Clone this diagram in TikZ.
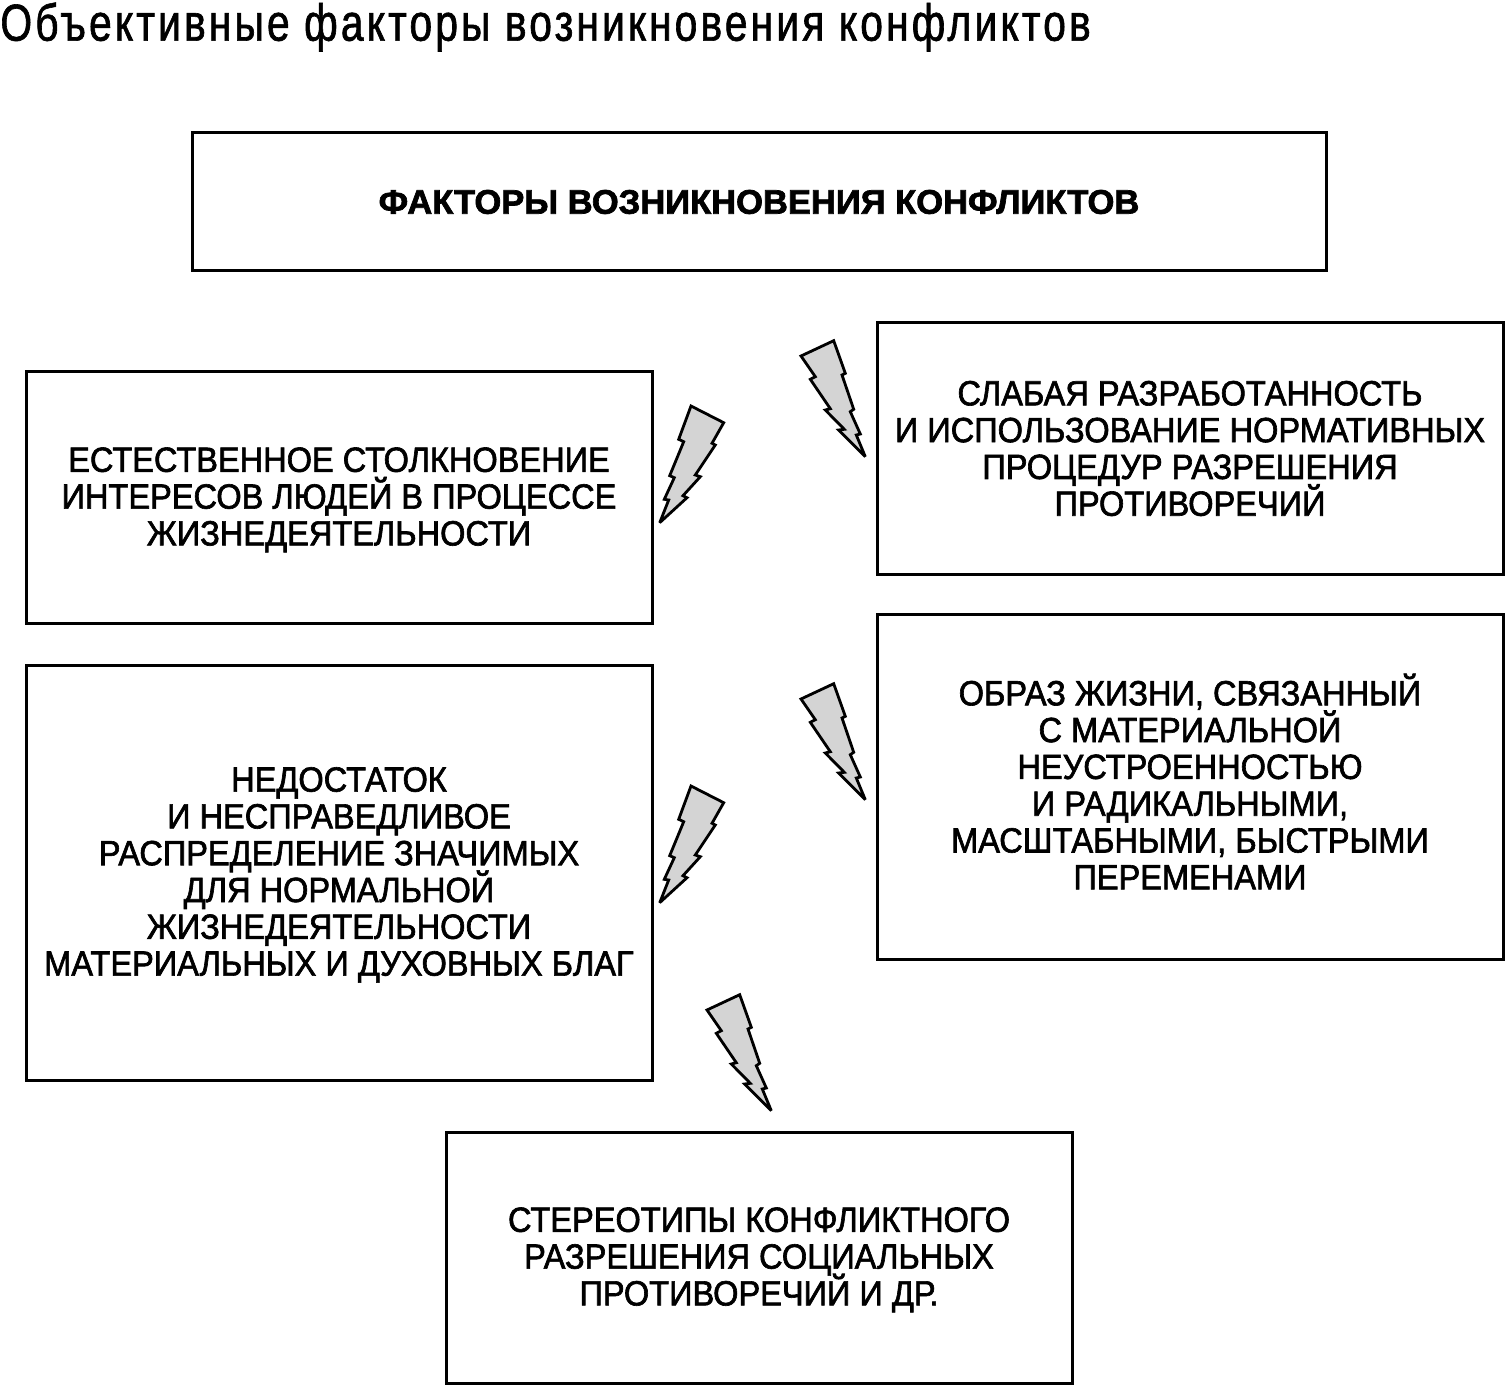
\documentclass[tikz,border=0pt]{standalone}
\usepackage{fontspec}
\setmainfont{Liberation Sans}
\newfontfamily\bodyfont[FakeStretch=0.93,FakeBold=1.8]{Liberation Sans}
\newfontfamily\headfont[FakeStretch=1.016,FakeBold=2]{Liberation Sans}
\newfontfamily\titlefont[FakeStretch=0.785,LetterSpace=6,FakeBold=1.2]{Liberation Sans}
\definecolor{boltgrey}{gray}{0.83}
\newcommand{\pushdown}{\rule{0pt}{14.6pt}}
\newcommand{\pushup}{\rule[-5pt]{0pt}{0pt}}
\tikzset{
  x=0.5pt,y=-0.5pt,
  framebox/.style={draw=black,line width=1.5pt,fill=white,inner sep=0pt,align=center,
    font=\bodyfont\fontsize{17.5}{18.4}\selectfont},
  boltshape/.style={draw=black,fill=boltgrey,line width=1.4pt,line join=miter,miter limit=4},
  rightbolt/.pic={
    \path[boltshape] (0,0) -- (32.7,-15.3) -- (44.3,17.3) -- (41,19) -- (52.7,53.3) -- (49.3,55.7)
      -- (59.3,78) -- (55.3,79) -- (64.3,100.7) -- (37.7,74) -- (43.3,73.3) -- (24.3,54) -- (29.3,52.7)
      -- (9.3,23.3) -- (14.3,20.7) -- cycle;
  },
  leftbolt/.pic={
    \path[boltshape] (0,0) -- (32.7,16.7) -- (21,37.3) -- (24.3,39) -- (4.3,69) -- (9.3,70.7)
      -- (-8,89.7) -- (-4,91.7) -- (-31.3,116.7) -- (-22.3,94) -- (-26.7,93.3) -- (-16.7,71.7)
      -- (-21.3,69.7) -- (-7.3,35.7) -- (-12.3,33.3) -- cycle;
  }
}
\lineskiplimit=-100pt
\begin{document}
\lineskiplimit=-100pt
\begin{tikzpicture}
\useasboundingbox (0,0) rectangle (1505,1385);
\node[anchor=west,inner sep=0pt,font=\titlefont\fontsize{26}{28}\selectfont] (title) at (0,27) {Объективные факторы возникновения конфликтов};
\node[framebox,minimum width=567pt,minimum height=69pt,font=\headfont\bfseries\fontsize{17}{18.4}\selectfont] (head) at (759,202) {ФАКТОРЫ ВОЗНИКНОВЕНИЯ КОНФЛИКТОВ};
\node[framebox,minimum width=313pt,minimum height=125.5pt] (a) at (339,497.5) {\pushdown ЕСТЕСТВЕННОЕ СТОЛКНОВЕНИЕ\\ИНТЕРЕСОВ ЛЮДЕЙ В ПРОЦЕССЕ\\ЖИЗНЕДЕЯТЕЛЬНОСТИ};
\node[framebox,minimum width=313pt,minimum height=125.5pt] (b) at (1190,448.5) {СЛАБАЯ РАЗРАБОТАННОСТЬ\\И ИСПОЛЬЗОВАНИЕ НОРМАТИВНЫХ\\ПРОЦЕДУР РАЗРЕШЕНИЯ\\ПРОТИВОРЕЧИЙ};
\node[framebox,minimum width=313pt,minimum height=207.5pt] (c) at (339,872.5) {\pushdown НЕДОСТАТОК\\И НЕСПРАВЕДЛИВОЕ\\РАСПРЕДЕЛЕНИЕ ЗНАЧИМЫХ\\ДЛЯ НОРМАЛЬНОЙ\\ЖИЗНЕДЕЯТЕЛЬНОСТИ\\МАТЕРИАЛЬНЫХ И ДУХОВНЫХ БЛАГ};
\node[framebox,minimum width=313pt,minimum height=172.5pt] (d) at (1190,786.5) {ОБРАЗ ЖИЗНИ, СВЯЗАННЫЙ\\С МАТЕРИАЛЬНОЙ\\НЕУСТРОЕННОСТЬЮ\\И РАДИКАЛЬНЫМИ,\\МАСШТАБНЫМИ, БЫСТРЫМИ\\ПЕРЕМЕНАМИ\pushup};
\node[framebox,minimum width=313pt,minimum height=125.5pt] (e) at (759,1257.5) {\pushdown СТЕРЕОТИПЫ КОНФЛИКТНОГО\\РАЗРЕШЕНИЯ СОЦИАЛЬНЫХ\\ПРОТИВОРЕЧИЙ И ДР.};
\pic at (691,406) {leftbolt};
\pic at (691,786) {leftbolt};
\pic at (801,356) {rightbolt};
\pic at (801,699) {rightbolt};
\pic at (707,1010) {rightbolt};
\end{tikzpicture}
\end{document}
